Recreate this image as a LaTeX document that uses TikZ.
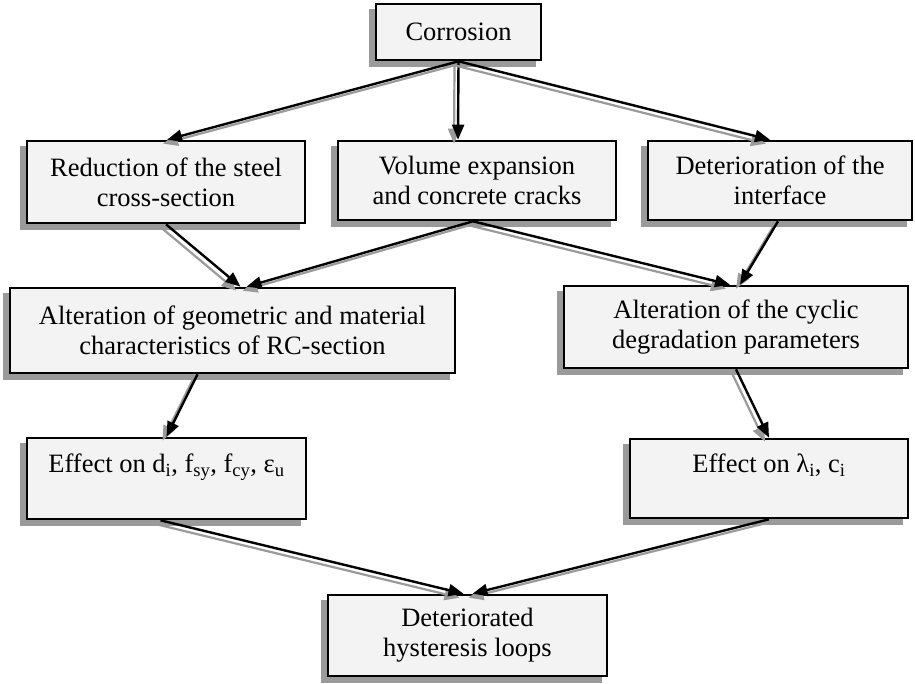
\documentclass[tikz,border=0pt]{standalone}
\usepackage{fontspec}
\setmainfont{Liberation Serif}
\usetikzlibrary{arrows.meta}
\definecolor{boxfill}{HTML}{F2F3F2}
\definecolor{shadowgray}{HTML}{9A9A9A}
\tikzset{
  flowbox/.style={draw=black, line width=2.6pt, fill=boxfill, rectangle,
    inner sep=0pt, align=center,
    font=\fontsize{26.5}{30}\selectfont,
    preaction={fill=shadowgray, draw=shadowgray, line width=2.6pt, transform canvas={shift={(-6pt,-6pt)}}}},
  mainline/.style={draw=black, line width=2.4pt, -{Triangle[length=15pt,width=12pt]}},
  shadowline/.style={draw=shadowgray, line width=2.2pt, -{Triangle[length=15pt,width=12pt]}, transform canvas={shift={(-4pt,-4pt)}}}
}
\newcommand{\flowarrow}[2]{%
  \draw[shadowline] #1 -- #2;
  \draw[mainline] #1 -- #2;}
\begin{document}
\begin{tikzpicture}[x=1pt,y=-1pt]
\useasboundingbox (0,0) rectangle (915,683);
\node[flowbox, minimum width=165pt, minimum height=56pt] (cor) at (458.5,32) {Corrosion};
\node[flowbox, minimum width=278pt, minimum height=82pt] (red) at (166,182) {Reduction of the steel\\cross-section};
\node[flowbox, minimum width=278pt, minimum height=79pt] (vol) at (477,180.5) {Volume expansion\\and concrete cracks};
\node[flowbox, minimum width=264pt, minimum height=79pt] (det) at (780,180.5) {Deterioration of the\\interface};
\node[flowbox, minimum width=445pt, minimum height=85pt] (geo) at (232.5,330.5) {Alteration of geometric and material\\characteristics of RC-section};
\node[flowbox, minimum width=344pt, minimum height=82pt] (cyc) at (736,327) {Alteration of the cyclic\\degradation parameters};
\node[flowbox, minimum width=279pt, minimum height=81pt] (eff1) at (166.5,478.5) {Effect on d\textsubscript{i}, f\textsubscript{sy}, f\textsubscript{cy}, ε\textsubscript{u}\\\mbox{}};
\node[flowbox, minimum width=278pt, minimum height=79pt] (eff2) at (769,478.5) {Effect on λ\textsubscript{i}, c\textsubscript{i}\\\mbox{}};
\node[flowbox, minimum width=279pt, minimum height=81pt] (hys) at (467.5,635.5) {Deteriorated\\hysteresis loops};
\flowarrow{(cor.south)}{([xshift=1pt]red.north)}
\flowarrow{(cor.south)}{([xshift=-19pt]vol.north)}
\flowarrow{(cor.south)}{([xshift=-10pt]det.north)}
\flowarrow{(red.south)}{([xshift=8pt]geo.north)}
\flowarrow{([xshift=-4pt]vol.south)}{([xshift=14pt]geo.north)}
\flowarrow{([xshift=-4pt]vol.south)}{([xshift=-6pt]cyc.north)}
\flowarrow{([xshift=-2pt]det.south)}{([xshift=4pt]cyc.north)}
\flowarrow{([xshift=-35pt]geo.south)}{(eff1.north)}
\flowarrow{(cyc.south)}{(eff2.north)}
\flowarrow{([xshift=-6pt]eff1.south)}{([xshift=-4pt]hys.north)}
\flowarrow{(eff2.south)}{([xshift=5pt]hys.north)}
\end{tikzpicture}
\end{document}
